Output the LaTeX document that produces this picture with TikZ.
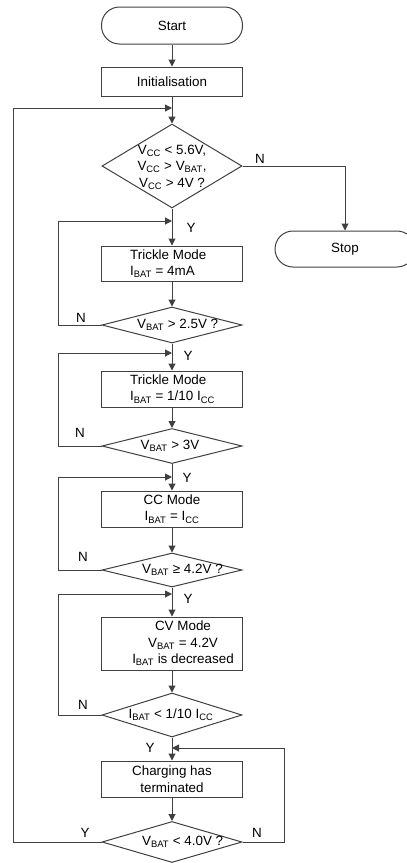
\documentclass[tikz,border=0pt]{standalone}
\usepackage{fontspec}
\setmainfont{Liberation Sans}
\usetikzlibrary{shapes.geometric,arrows.meta}
\newcommand\sbs[1]{\textsubscript{#1}}
\definecolor{ln}{HTML}{404040}
\tikzset{
  every node/.style={font=\fontsize{13.4}{16.5}\selectfont, text=black},
  term/.style={draw=ln, line width=1pt, rectangle, rounded corners=18pt, minimum width=141pt, minimum height=37pt, inner sep=0pt},
  procbox/.style={draw=ln, line width=1pt, rectangle, minimum width=141pt, inner sep=0pt},
  dia/.style={draw=ln, line width=1pt, diamond, minimum width=140pt, inner sep=0pt},
  conn/.style={draw=ln, line width=1pt},
  arr/.style={conn, -{Triangle[length=7pt,width=7pt]}},
  lbl/.style={inner sep=0pt}
}
\begin{document}
\begin{tikzpicture}[x=1pt,y=-1pt]
\useasboundingbox (0,0) rectangle (407,863);
% nodes
\node[term] (start) at (172,25.5) {Start};
\node[procbox, minimum height=29pt] (init) at (172,81.5) {Initialisation};
\node[dia, minimum height=84pt] (d1) at (172,166) {};
\node[align=center, lbl] (d1t) at (172,167) {V\sbs{CC} < 5.6V,\\ V\sbs{CC} > V\sbs{BAT},\\ V\sbs{CC} > 4V ?};
\node[term, minimum width=140pt, minimum height=36pt] (stop) at (345,249) {Stop};

\node[procbox, minimum height=35pt] (t1) at (172,263.5) {};
\node[align=left, anchor=west, lbl] (t1t) at (130,263.5) {Trickle Mode\\ I\sbs{BAT} = 4mA};
\node[dia, minimum height=36pt] (d2) at (172,325) {};
\node[anchor=west, lbl] (d2t) at (137,325) {V\sbs{BAT} > 2.5V ?};

\node[procbox, minimum height=36pt] (t2) at (172,389) {};
\node[align=left, anchor=west, lbl] (t2t) at (130,389) {Trickle Mode\\ I\sbs{BAT} = 1/10 I\sbs{CC}};
\node[dia, minimum height=35pt] (d3) at (172,446) {};
\node[lbl] (d3t) at (170,446) {V\sbs{BAT} > 3V};

\node[procbox, minimum height=36pt, align=center] (cc) at (172,509) {CC Mode\\ I\sbs{BAT} = I\sbs{CC}};
\node[dia, minimum height=34pt] (d4) at (172,570) {};
\node[anchor=west, lbl] (d4t) at (142,570) {V\sbs{BAT} ≥ 4.2V ?};

\node[procbox, minimum height=53pt] (cv) at (172,643.5) {};
\node[align=center, lbl] (cvt) at (183,643.5) {CV Mode\\ V\sbs{BAT} = 4.2V\\ I\sbs{BAT} is decreased};
\node[dia, minimum height=44pt] (d5) at (172,715) {};
\node[lbl] (d5t) at (171,715) {I\sbs{BAT} < 1/10 I\sbs{CC}};

\node[procbox, minimum height=36pt, align=center] (ch) at (172,779) {Charging has\\ terminated};
\node[dia, minimum height=41pt] (d6) at (172,842) {};
\node[anchor=west, lbl] (d6t) at (142,842) {V\sbs{BAT} < 4.0V ?};

% junction coordinates
\coordinate (j0) at (172,108);
\coordinate (j1) at (172,221);
\coordinate (j2) at (172,353);
\coordinate (j3) at (172,477);
\coordinate (j4) at (172,594);
\coordinate (j5) at (172,748);

% main flow
\draw[arr] (start) -- (init);
\draw[arr] (init) -- (d1);
\draw[arr] (d1.east) -| (stop.north);
\draw[arr] (d1) -- (t1);
\draw[arr] (t1) -- (d2);
\draw[arr] (d2) -- (t2);
\draw[arr] (t2) -- (d3);
\draw[arr] (d3) -- (cc);
\draw[arr] (cc) -- (d4);
\draw[arr] (d4) -- (cv);
\draw[arr] (cv) -- (d5);
\draw[arr] (d5) -- (ch);
\draw[arr] (ch) -- (d6);

% loops
\draw[arr] (d2.west) -- (58,325) |- (j1);
\draw[arr] (d3.west) -- (58,446) |- (j2);
\draw[arr] (d4.west) -- (58,570) |- (j3);
\draw[arr] (d5.west) -- (58,715) |- (j4);
\draw[arr] (d6.east) -- (284,842) |- (j5);
\draw[arr] (d6.west) -- (13,842) |- (j0);

% labels
\node[lbl] (n1) at (260,159) {N};
\node[lbl] (y1) at (191,228) {Y};
\node[lbl] (n2) at (81,318) {N};
\node[lbl] (y2) at (188,356) {Y};
\node[lbl] (n3) at (80,433) {N};
\node[lbl] (y3) at (187,478) {Y};
\node[lbl] (n4) at (83,557) {N};
\node[lbl] (y4) at (188,599) {Y};
\node[lbl] (n5) at (83,705) {N};
\node[lbl] (y5) at (150,748) {Y};
\node[lbl] (y6) at (85,833) {Y};
\node[lbl] (n6) at (257,833) {N};
\end{tikzpicture}
\end{document}
